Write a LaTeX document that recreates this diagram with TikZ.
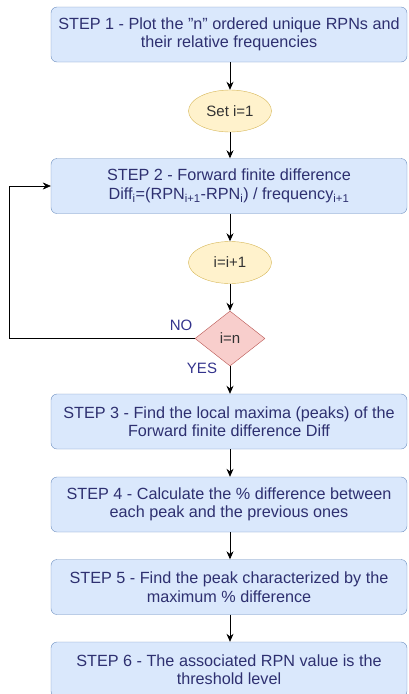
\documentclass[tikz,border=0pt]{standalone}
\usepackage{fontspec}
\setmainfont{Liberation Sans}
\usetikzlibrary{arrows.meta,shapes.geometric,positioning}
\definecolor{boxfill}{HTML}{DAE8FC}
\definecolor{boxline}{HTML}{6C8EBF}
\definecolor{ovalfill}{HTML}{FFF2CC}
\definecolor{ovalline}{HTML}{D6B656}
\definecolor{testfill}{HTML}{F8CECC}
\definecolor{testline}{HTML}{B85450}
\definecolor{boxtext}{HTML}{2E3070}
\definecolor{labeltext}{HTML}{33338C}
\tikzset{
flow/.style = { x = 1pt, y = -1pt, > = {Stealth[length=8pt,width=7pt]}, font = \fontsize{15}{18}\selectfont },
stepbox/.style = { rectangle, rounded corners = 6pt, draw = boxline, fill = boxfill, text = boxtext,
  minimum width = 356pt, minimum height = 55pt, align = center, inner sep = 0pt,
  font = \fontsize{16.2}{18.5}\selectfont },
oval/.style = { ellipse, draw = ovalline, fill = ovalfill, text = black!80,
  minimum width = 83pt, minimum height = 42pt, inner sep = 0pt },
test/.style = { diamond, draw = testline, fill = testfill, text = black!80,
  minimum width = 70pt, minimum height = 55pt, inner sep = 0pt },
answer/.style = { text = labeltext }, % NO / YES
link/.style = { ->, thick }
}

\begin{document}
\begin{tikzpicture}[flow]
	\useasboundingbox (0,0) rectangle (408,694);
	\node[stepbox] (step1) at (229,34.5) {STEP 1 - Plot the \symbol{34}n\symbol{34} ordered unique RPNs and\\their relative frequencies};
	\node[oval] (seti) at (230,111) {Set i=1};
	\node[stepbox] (step2) at (229,186) {STEP 2 - Forward finite difference\\Diff\textsubscript{i}=(RPN\textsubscript{i+1}-RPN\textsubscript{i}) / frequency\textsubscript{i+1}};
	\node[oval] (inc) at (230,262.5) {i=i+1};
	\node[test] (check) at (230,338.5) {i=n};
	\node[stepbox] (step3) at (229,421.5) {STEP 3 - Find the local maxima (peaks) of the\\Forward finite difference Diff};
	\node[stepbox] (step4) at (229,504.5) {STEP 4 - Calculate the \% difference between\\each peak and the previous ones};
	\node[stepbox] (step5) at (229,587) {STEP 5 - Find the peak characterized by the\\maximum \% difference};
	\node[stepbox] (step6) at (229,669.5) {STEP 6 - The associated RPN value is the\\threshold level};
	\coordinate (back) at (9,338.5);

	\draw[link] (step1.south -| seti) -- (seti);
	\draw[link] (seti) -- (step2.north -| seti);
	\draw[link] (step2.south -| inc) -- (inc);
	\draw[link] (inc) -- (check);
	\draw[link] (check) -- (step3.north -| check);
	\draw[link] (step3.south -| check) -- (step4.north -| check);
	\draw[link] (step4.south -| check) -- (step5.north -| check);
	\draw[link] (step5.south -| check) -- (step6.north -| check);
	\draw[->] (check.west) -- (back) |- (step2.west);
	\node[answer] (no) at (181,325) {NO};
	\node[answer] (yes) at (202,368) {YES};
\end{tikzpicture}
\end{document}
